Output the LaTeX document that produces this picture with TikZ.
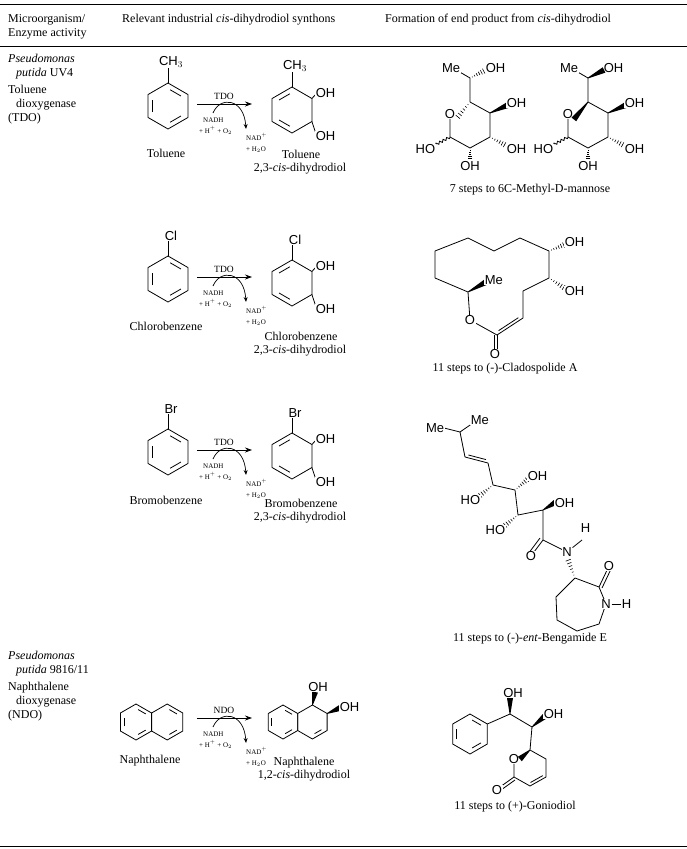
\documentclass[tikz,border=0pt]{standalone}
\usepackage{fontspec}
\setmainfont{Liberation Serif}
\newfontfamily\chem{Liberation Sans}
\usetikzlibrary{calc,decorations.pathmorphing,arrows.meta}
\tikzset{
 bond/.style={line width=0.8pt,line join=round},
 txt/.style={font=\fontsize{12}{14}\selectfont,inner sep=0pt,anchor=base west},
 capt/.style={font=\fontsize{12}{14}\selectfont,inner sep=0pt,anchor=base},
 atom/.style={font=\chem\fontsize{13}{15}\selectfont,inner sep=0.6pt,fill=white},
 smalltxt/.style={font=\fontsize{7}{8}\selectfont,inner sep=0pt,anchor=base west},
 hrule/.style={line width=0.6pt},
 wavy/.style={line width=0.8pt,decorate,decoration={snake,amplitude=1.2pt,segment length=4pt}}
}
\newcommand\hexring[4]{%
 \coordinate (#1c) at (#2,#3);
 \coordinate (#11) at (#2,{#3-#4});
 \coordinate (#12) at ({#2+0.866*#4},{#3-0.5*#4});
 \coordinate (#13) at ({#2+0.866*#4},{#3+0.5*#4});
 \coordinate (#14) at (#2,{#3+#4});
 \coordinate (#15) at ({#2-0.866*#4},{#3+0.5*#4});
 \coordinate (#16) at ({#2-0.866*#4},{#3-0.5*#4});
 \draw[bond] (#11)--(#12)--(#13)--(#14)--(#15)--(#16)--cycle;}
\newcommand\inner[3]{\draw[bond,shorten >=2.5pt,shorten <=2.5pt] ($(#1)!0.76!(#2)$) -- ($(#1)!0.76!(#3)$);}
\newcommand\dblb[3]{\draw[bond] ($(#1)!0.12!(#2)!2.8pt!#3:(#2)$) -- ($(#2)!0.12!(#1)!2.8pt!-#3:(#1)$);}
\newcommand\hashb[2]{\foreach \i in {1,...,7}{\draw[line width=0.6pt] ($(#1)!\i/7!(#2)!{\i*0.45pt}!90:(#2)$) -- ($(#1)!\i/7!(#2)!{\i*0.45pt}!-90:(#2)$);}}
\newcommand\wedgeb[2]{\fill ($(#1)!0.4pt!90:(#2)$) -- ($(#2)!3pt!-90:(#1)$) -- ($(#2)!3pt!90:(#1)$) -- ($(#1)!0.4pt!-90:(#2)$) -- cycle;}
\newcommand\rxn[3]{% y, enzyme, name
 \coordinate (#3a) at (197,#1); \coordinate (#3b) at (252,#1);
 \draw[line width=0.8pt,-{Stealth[length=7pt,width=5pt]}] (#3a) -- (#3b);
 \node[capt,font=\fontsize{9.5}{10}\selectfont] (#3e) at (224,{#1-5}) {#2};
 \coordinate (#3s) at (213,{#1+9}); \coordinate (#3t) at (246,{#1+25});
 \draw[line width=0.7pt,-{Stealth[length=5pt,width=4pt]}] (#3s) .. controls (220,{#1-8}) and (244,{#1-6}) .. (#3t);
 \node[smalltxt] (#3n1) at (203,{#1+18}) {NADH};
 \node[smalltxt] (#3n2) at (199,{#1+29}) {+ H$^{+}$ + O$_{2}$};
 \node[smalltxt] (#3n3) at (246,{#1+36}) {NAD$^{+}$};
 \node[smalltxt] (#3n4) at (246,{#1+47}) {+ H$_{2}$O};}
\begin{document}
\begin{tikzpicture}[x=1pt,y=-1pt]
\useasboundingbox (0,0) rectangle (687,849);
\fill[white] (0,0) rectangle (687,849);
% rules
\draw[hrule] (0,4) -- (687,4);
\draw[hrule] (0,46) -- (687,46);
\draw[hrule] (0,846) -- (687,846);
% header
\node[txt] (h1) at (8,22) {Microorganism/};
\node[txt] (h2) at (8,36) {Enzyme activity};
\node[txt] (h3) at (122,22) {Relevant industrial \textit{cis}-dihydrodiol synthons};
\node[txt] (h4) at (385,22) {Formation of end product from \textit{cis}-dihydrodiol};
% column 1
\node[txt] (m1) at (8,62) {\textit{Pseudomonas}};
\node[txt] (m2) at (16,76) {\textit{putida} UV4};
\node[txt] (m3) at (8,93) {Toluene};
\node[txt] (m4) at (16,107) {dioxygenase};
\node[txt] (m5) at (8,121) {(TDO)};
\node[txt] (n1) at (8,659) {\textit{Pseudomonas}};
\node[txt] (n2) at (16,673) {\textit{putida} 9816/11};
\node[txt] (n3) at (8,690) {Naphthalene};
\node[txt] (n4) at (16,704) {dioxygenase};
\node[txt] (n5) at (8,718) {(NDO)};
% ---------- rows 1-3 -------------
\foreach \oy/\sub/\lab/\slab/\ly/\py in {0/{CH$_3$}/Toluene/Toluene/157/158, 173/Cl/Chlorobenzene/Chlorobenzene/330/340, 346/Br/Bromobenzene/Bromobenzene/504/507}{
 \hexring{s}{168}{106+\oy}{23}
 \inner{sc}{s1}{s2}\inner{sc}{s3}{s4}\inner{sc}{s5}{s6}
 \coordinate (ssub) at (168,{84+\oy-16});
 \draw[bond] (s1) -- (ssub);
 \node[font=\chem\fontsize{13}{15}\selectfont,inner sep=0.5pt,anchor=south] (ssl) at (171,{84+\oy-16}) {\sub};
 \node[capt] (slabel) at (166,\ly) {\lab};
 \hexring{p}{292}{110+\oy}{23}
 \inner{pc}{p1}{p6}\inner{pc}{p4}{p5}
 \coordinate (psub) at (292,{88+\oy-16});
 \draw[bond] (p1) -- (psub);
 \node[font=\chem\fontsize{13}{15}\selectfont,inner sep=0.5pt,anchor=south] (psl) at (295,{88+\oy-16}) {\sub};
 \coordinate (po1) at (316,{94+\oy});
 \coordinate (po2) at (316,{134+\oy});
 \draw[bond] (p2) -- (po1); \draw[bond] (p3) -- (po2);
 \node[atom,anchor=west] (pol1) at (315,{93+\oy}) {OH};
 \node[atom,anchor=west] (pol2) at (315,{136+\oy}) {OH};
 \node[capt] (plab) at (301,\py) {\slab};
 \node[capt] (plab2) at (300,\py+13) {2,3-\textit{cis}-dihydrodiol};
}
\rxn{104}{TDO}{r1}
\rxn{277}{TDO}{r2}
\rxn{450}{TDO}{r3}
% ---------- row 4 naphthalene -------------
\hexring{L}{136}{722}{18}\hexring{R}{167.2}{722}{18}
\inner{Lc}{L5}{L6}\inner{Lc}{L1}{L2}\inner{Lc}{L3}{L4}
\inner{Rc}{R1}{R2}\inner{Rc}{R3}{R4}
\node[capt] (nlab) at (150,763) {Naphthalene};
\rxn{718}{NDO}{r4}
\hexring{P}{283}{722}{17}\hexring{Q}{312.4}{722}{17}
\inner{Pc}{P5}{P6}\inner{Pc}{P1}{P2}\inner{Pc}{P3}{P4}
\inner{Qc}{Q3}{Q4}
\coordinate (qo1) at (315,692); \wedgeb{Q1}{qo1}
\node[atom,anchor=south] (qol1) at (318,692) {OH};
\coordinate (qo2) at (340,708); \wedgeb{Q2}{qo2}
\node[atom,anchor=west] (qol2) at (339,707) {OH};
\node[capt] (plab4) at (304,765) {Naphthalene};
\node[capt] (plab4b) at (304,778) {1,2-\textit{cis}-dihydrodiol};
% ---------- mannose -------------
\foreach \dx/\st in {0/0,118/1}{
 \begin{scope}[xshift=\dx]
 \coordinate (c6) at (470,78); \coordinate (c5) at (470,102);
 \coordinate (o) at (450,114); \coordinate (c4) at (490,113);
 \coordinate (c3) at (490,137); \coordinate (c2) at (470,148);
 \coordinate (c1) at (450,137);
 \coordinate (me) at (458,71); \coordinate (o6) at (486,70);
 \coordinate (o4) at (508,105); \coordinate (o3) at (507,146);
 \coordinate (o2) at (470,163); \coordinate (o1) at (433,146);
 \draw[bond] (me) -- (c6) -- (c5); \draw[bond] (c5) -- (c4) -- (c3) -- (c2) -- (c1) -- (o);
 \node[atom,anchor=east] (mel) at (461,68) {Me};
 \node[atom,anchor=west] (o6l) at (485,68) {OH};
 \node[atom] (ol) at (o) {O};
 \wedgeb{c4}{o4}
 \node[atom,anchor=west] (o4l) at (506,103) {OH};
 \hashb{c3}{o3}
 \node[atom,anchor=west] (o3l) at (506,149) {OH};
 \hashb{c2}{o2}
 \node[atom,anchor=north] (o2l) at (470,161) {OH};
 \draw[wavy] (c1) -- (o1);
 \node[atom,anchor=east] (o1l) at (436,149) {HO};
 \ifnum\st=0 \hashb{c6}{o6}\hashb{c5}{ol.south east}\else \wedgeb{c6}{o6}\wedgeb{c5}{ol.south east}\fi
 \end{scope}}
\node[capt] (mcap) at (530,192) {7 steps to 6C-Methyl-D-mannose};
% ---------- cladospolide -------------
\coordinate (A) at (435,251); \coordinate (B) at (468,238); \coordinate (C) at (494,251);
\coordinate (D) at (520,238); \coordinate (E) at (549,251); \coordinate (F) at (549,278);
\coordinate (G) at (523,291); \coordinate (H) at (523,318); \coordinate (I) at (497,335);
\coordinate (Oe) at (470,320); \coordinate (J) at (468,292); \coordinate (K) at (435,278);
\coordinate (Ocarb) at (497,352);
\draw[bond] (A)--(B)--(C)--(D)--(E)--(F)--(G)--(H)--(I)--(Oe)--(J)--(K)--cycle;
\dblb{H}{I}{-90}
\draw[bond] (I) -- (Ocarb); \draw[bond] ($(I)+(-3,0)$) -- ($(Ocarb)+(-3,-2)$);
\node[atom] (oel) at (Oe) {O};
\node[atom,anchor=north] (ocl) at (495,349) {O};
\coordinate (meC) at (486,282); \wedgeb{J}{meC}
\node[atom,anchor=west] (mecl) at (484,280) {Me};
\coordinate (oh1) at (566,244); \hashb{E}{oh1}
\node[atom,anchor=west] (oh1l) at (564,242) {OH};
\coordinate (oh2) at (566,289); \hashb{F}{oh2}
\node[atom,anchor=west] (oh2l) at (564,291) {OH};
\node[capt] (ccap) at (505,371) {11 steps to (-)-Cladospolide A};
% ---------- bengamide -------------
\coordinate (ch) at (460,432); \coordinate (me1) at (444,428); \coordinate (me2) at (473,423);
\coordinate (b1) at (465,457); \coordinate (b2) at (488,463); \coordinate (b3) at (493,485);
\coordinate (b4) at (515,490); \coordinate (b5) at (518,515); \coordinate (b6) at (543,510);
\coordinate (b7) at (543,540); \coordinate (bo) at (531,556); \coordinate (bn) at (567,552);
\coordinate (ca) at (575,578); \coordinate (cc) at (599,587); \coordinate (nr) at (606,604);
\coordinate (r1) at (599,624); \coordinate (r2) at (577,631); \coordinate (r3) at (557,620);
\coordinate (r4) at (556,597); \coordinate (co) at (609,566);
\draw[bond] (me1) -- (ch) -- (me2); \draw[bond] (ch) -- (b1) -- (b2) -- (b3) -- (b4) -- (b5) -- (b6) -- (b7) -- (bn);
\dblb{b1}{b2}{90}
\draw[bond] (b7) -- (bo); \draw[bond] ($(b7)+(-3,-2)$) -- ($(bo)+(-3,-2)$);
\node[atom,anchor=east] (me1l) at (445,428) {Me};
\node[atom,anchor=south west] (me2l) at (470,425) {Me};
\coordinate (bo3) at (478,497); \hashb{b3}{bo3} \node[atom,anchor=east] (bo3l) at (481,500) {HO};
\coordinate (bo4) at (529,478); \hashb{b4}{bo4} \node[atom,anchor=west] (bo4l) at (527,476) {OH};
\coordinate (bo5) at (503,527); \hashb{b5}{bo5} \node[atom,anchor=east] (bo5l) at (506,530) {HO};
\coordinate (bo6) at (556,502); \wedgeb{b6}{bo6} \node[atom,anchor=west] (bo6l) at (554,503) {OH};
\node[atom] (bol) at (bo) {O};
\node[atom] (bnl) at (bn) {N};
\coordinate (bh) at (582,540); \draw[bond] (bnl) -- (bh);
\node[atom,anchor=south west] (bhl) at (580,533) {H};
\hashb{ca}{bnl.south}
\draw[bond] (ca) -- (cc) -- (nr) -- (r1) -- (r2) -- (r3) -- (r4) -- (ca);
\draw[bond] (cc) -- (co); \draw[bond] ($(cc)+(3,1)$) -- ($(co)+(3,1)$);
\node[atom] (col) at (co) {O};
\node[atom] (nrl) at (nr) {N};
\coordinate (nh) at (622,604); \draw[bond] (nrl) -- (nh);
\node[atom,anchor=west] (nhl) at (621,604) {H};
\node[capt] (bcap) at (530,641) {11 steps to (-)-\textit{ent}-Bengamide E};
% ---------- goniodiol -------------
\hexring{ph}{470}{734}{20}
\inner{phc}{ph1}{ph2}\inner{phc}{ph3}{ph4}\inner{phc}{ph5}{ph6}
\coordinate (ga) at (510,714); \coordinate (gb) at (532,727);
\draw[bond] (ph2) -- (ga) -- (gb);
\coordinate (gao) at (510,698); \wedgeb{ga}{gao}
\node[atom,anchor=south] (gaol) at (513,698) {OH};
\coordinate (gbo) at (545,716); \wedgeb{gb}{gbo}
\node[atom,anchor=west] (gbol) at (543,714) {OH};
\coordinate (l6) at (530,750); \coordinate (l5) at (546,759); \coordinate (l4) at (546,777);
\coordinate (l3) at (530,786); \coordinate (l2) at (514,777); \coordinate (lo) at (514,759);
\coordinate (lco) at (500,787);
\draw[bond] (gb) -- (l6) -- (l5) -- (l4) -- (l3) -- (l2) -- (lo);
\dblb{l4}{l3}{-90}
\draw[bond] (l2) -- (lco); \draw[bond] ($(l2)+(1,3)$) -- ($(lco)+(1,3)$);
\node[atom] (lol) at (lo) {O};
\wedgeb{l6}{lol.east}
\node[atom] (lcol) at (497,790) {O};
\node[capt] (gcap) at (515,809) {11 steps to (+)-Goniodiol};
\end{tikzpicture}
\end{document}
